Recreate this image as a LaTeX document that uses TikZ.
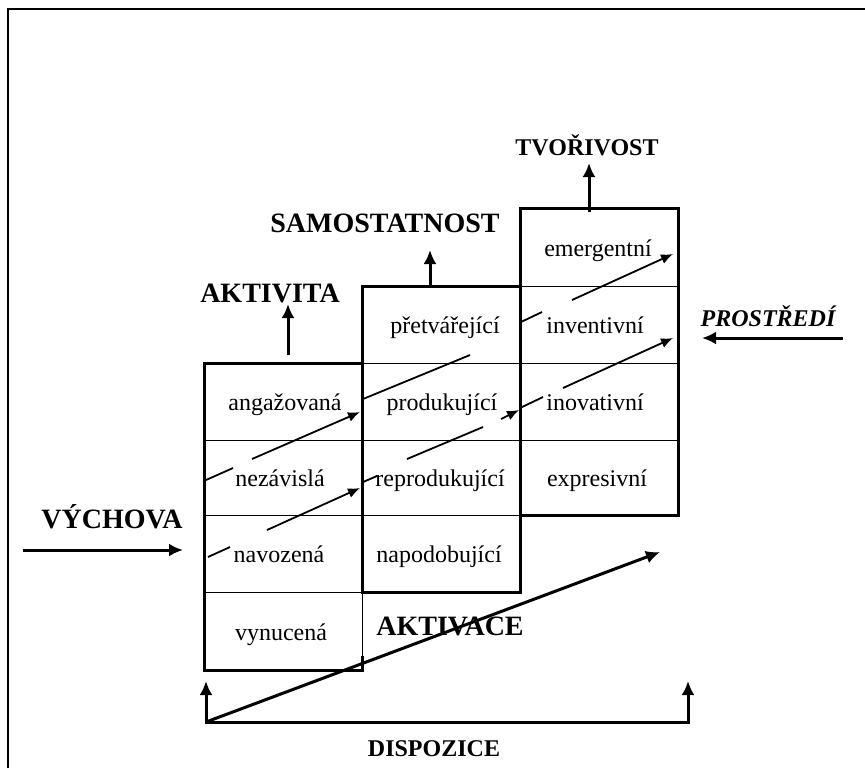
\documentclass[tikz,border=0pt]{standalone}
\usepackage{fontspec}
\setmainfont{Liberation Serif}
\usetikzlibrary{arrows.meta}
\tikzset{
  cell/.style={anchor=base, font=\fontsize{12}{14}\selectfont},
  biglabel/.style={anchor=base, font=\fontsize{14}{16}\selectfont\bfseries},
  smalllabel/.style={anchor=base, font=\fontsize{12}{14}\selectfont\bfseries},
  rim/.style={line width=1.5pt},
  rowline/.style={line width=0.5pt},
  fatarrow/.style={line width=1.5pt, -{Latex[length=7pt,width=6.5pt]}},
  slimarrow/.style={line width=0.9pt, -{Latex[length=6pt,width=5pt]}},
  slimline/.style={line width=0.9pt}
}
\begin{document}
\begin{tikzpicture}[x=0.5pt, y=-0.5pt]
  \useasboundingbox (0,0) rectangle (865,768);
  \draw[line width=1pt] (8,768) -- (8,9) -- (865,9);

  % stupne
  \draw[rowline] (204,440) -- (362,440) (204,515) -- (362,515) (204,592) -- (362,592);
  \draw[rowline] (362,363) -- (520,363) (362,440) -- (520,440) (362,515) -- (520,515);
  \draw[rowline] (520,286) -- (678,286) (520,363) -- (678,363) (520,440) -- (678,440);
  \draw[rowline] (362,592) -- (362,670);
  \draw[rim] (362,363) -- (204,363) -- (204,670) -- (362,670) -- (362,656);
  \draw[rim] (362,286) rectangle (520,592);
  \draw[rim] (520,208) rectangle (678,515);

  \node[cell] (ang) at (285,410) {angažovaná};
  \node[cell] (nez) at (280,486) {nezávislá};
  \node[cell] (nav) at (279,562) {navozená};
  \node[cell] (vyn) at (281,640) {vynucená};
  \node[cell] (pre) at (445,333) {přetvářející};
  \node[cell] (pro) at (442,410) {produkující};
  \node[cell] (rep) at (440,486) {reprodukující};
  \node[cell] (nap) at (439,562) {napodobující};
  \node[cell] (eme) at (598,256) {emergentní};
  \node[cell] (inv) at (595,333) {inventivní};
  \node[cell] (ino) at (595,410) {inovativní};
  \node[cell] (exr) at (597,486) {expresivní};

  \draw[slimline] (206,480) -- (233,468);
  \draw[slimarrow] (252,459) -- (360,412);
  \draw[slimline] (363,399) -- (470,355);
  \draw[slimline] (521,322) -- (542,312);
  \draw[slimarrow] (572,300) -- (673,254);
  \draw[slimline] (208,557) -- (230,547);
  \draw[slimarrow] (267,530) -- (360,488);
  \draw[slimline] (363,482) -- (377,476);
  \draw[slimline] (407,459) -- (483,427);
  \draw[slimarrow] (501,419) -- (519,410);
  \draw[slimline] (520,408) -- (543,397);
  \draw[slimarrow] (563,388) -- (673,338);

  % popisky
  \node[biglabel] (aktivita) at (270,302) {AKTIVITA};
  \node[biglabel] (samost) at (385,232) {SAMOSTATNOST};
  \node[smalllabel] (tvoriv) at (587,155) {TVOŘIVOST};
  \node[biglabel] (vychova) at (112,528) {VÝCHOVA};
  \node[smalllabel, font=\fontsize{12}{14}\selectfont\bfseries\itshape] (prostredi) at (768,326) {PROSTŘEDÍ};
  \node[biglabel] (aktivace) at (450,635) {AKTIVACE};
  \node[smalllabel] (dispozice) at (434,756) {DISPOZICE};

  \draw[fatarrow] (288,355) -- (288,304);
  \draw[fatarrow] (430,286) -- (430,250);
  \draw[fatarrow] (589,212) -- (589,163);
  \draw[fatarrow] (23,550) -- (183,550);
  \draw[fatarrow] (843,338) -- (702,338);

  \draw[line width=1.5pt, {Latex[length=7pt,width=6.5pt]}-{Latex[length=7pt,width=6.5pt]}]
    (206,681) -- (206,722) -- (688,722) -- (688,681);
  \draw[fatarrow] (206,722) -- (660,552);
\end{tikzpicture}
\end{document}
